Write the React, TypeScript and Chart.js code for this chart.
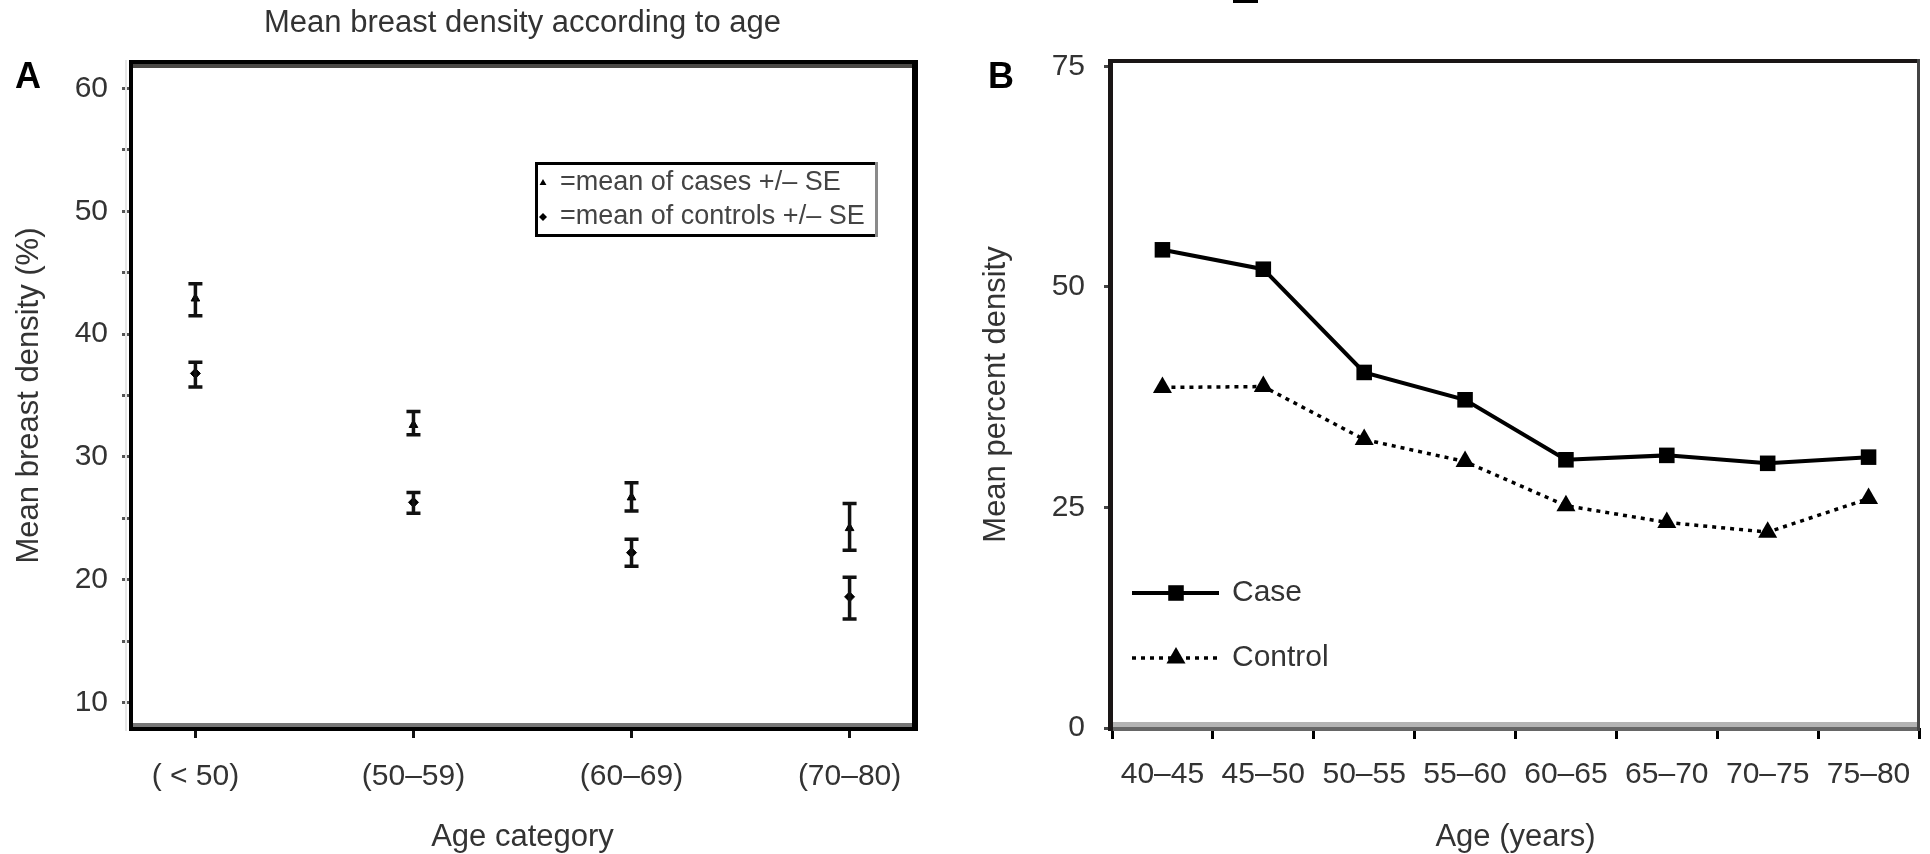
import React, { useEffect, useRef } from 'react';
import { Chart, registerables } from 'chart.js';
import { drawPoint } from 'chart.js/helpers';

Chart.register(...registerables);

const FAMILY = "'Liberation Sans', Arial, Helvetica, sans-serif";
const TEXT = '#333333';

// ---------- Panel A data ----------
const ageCategories = ['( < 50)', '(50–59)', '(60–69)', '(70–80)'];
const casesMean = [42.9, 32.6, 26.7, 24.2];
const casesLow = [41.5, 31.8, 25.6, 22.4];
const casesHigh = [44.1, 33.7, 27.9, 26.2];
const controlsMean = [36.8, 26.3, 22.2, 18.6];
const controlsLow = [35.7, 25.4, 21.1, 16.8];
const controlsHigh = [37.7, 27.1, 23.3, 20.2];
const yTicksA = [10, 15, 20, 25, 30, 35, 40, 45, 50, 55, 60];
const legendLabelsA = ['=mean of cases +/– SE', '=mean of controls +/– SE'];
const titleA = 'Mean breast density according to age';

// ---------- Panel B data ----------
const ageGroups = ['40–45', '45–50', '50–55', '55–60', '60–65', '65–70', '70–75', '75–80'];
const caseDensity = [54.2, 52.0, 40.3, 37.2, 30.4, 30.9, 30.0, 30.7];
const controlDensity = [38.6, 38.7, 32.7, 30.2, 25.2, 23.3, 22.2, 26.0];
const yTicksB = [0, 25, 50, 75];

const errorBars = {
  id: 'errorBars',
  afterDatasetsDraw(chart: any) {
    const { ctx } = chart;
    const x = chart.scales.x;
    const y = chart.scales.y;
    chart.data.datasets.forEach((ds: any) => {
      ds.data.forEach((pt: any, i: number) => {
        const px = x.getPixelForValue(pt.x);
        const pLo = y.getPixelForValue(ds.low[i]);
        const pHi = y.getPixelForValue(ds.high[i]);
        ctx.save();
        ctx.strokeStyle = '#111';
        ctx.lineWidth = 3.5;
        ctx.beginPath();
        ctx.moveTo(px, pLo);
        ctx.lineTo(px, pHi);
        ctx.moveTo(px - 7, pLo);
        ctx.lineTo(px + 7, pLo);
        ctx.moveTo(px - 7, pHi);
        ctx.lineTo(px + 7, pHi);
        ctx.stroke();
        ctx.restore();
      });
    });
  },
};

const frameA = {
  id: 'frameA',
  afterDraw(chart: any) {
    const { ctx } = chart;
    const { left, right, top, bottom } = chart.chartArea;
    ctx.save();
    ctx.fillStyle = '#e6e6e6';
    ctx.fillRect(left - 5, top - 4, 2, bottom - top + 8);
    ctx.fillStyle = '#4a4845';
    ctx.fillRect(left, top, right - left, 4);
    ctx.fillStyle = '#777777';
    ctx.fillRect(left, bottom - 4, right - left, 4);
    ctx.fillStyle = '#000';
    ctx.fillRect(left - 1, top - 4, right - left + 4, 4);
    ctx.fillRect(left - 1, bottom, right - left + 4, 4);
    ctx.fillRect(left - 1, top - 4, 4, bottom - top + 8);
    ctx.fillRect(right - 3, top - 4, 6, bottom - top + 8);

    // panel letter
    ctx.font = `bold 36px ${FAMILY}`;
    ctx.textAlign = 'center';
    ctx.textBaseline = 'middle';
    ctx.fillText('A', 28, 78);

    // legend box
    const bx = left + 405;
    const by = top + 98;
    const bw = 343;
    const bh = 75;
    ctx.fillStyle = '#fff';
    ctx.fillRect(bx, by, bw, bh);
    ctx.fillStyle = '#000';
    ctx.fillRect(bx, by, bw, 3);
    ctx.fillRect(bx, by + bh - 3, bw, 3);
    ctx.fillRect(bx, by, 3, bh);
    ctx.fillStyle = '#8a8a8a';
    ctx.fillRect(bx + bw - 3, by, 3, bh);
    const rows = [by + 21, by + 55];
    chart.data.datasets.forEach((ds: any, i: number) => {
      ctx.fillStyle = '#000';
      drawPoint(ctx, { pointStyle: ds.pointStyle, radius: 4, rotation: 0, borderWidth: 0 } as any, bx + 8, rows[i]);
      ctx.fillStyle = '#444';
      ctx.font = `27px ${FAMILY}`;
      ctx.textAlign = 'left';
      ctx.textBaseline = 'middle';
      ctx.fillText(legendLabelsA[i], bx + 25, rows[i]);
    });
    ctx.restore();
  },
};

const frameB = {
  id: 'frameB',
  afterDraw(chart: any) {
    const { ctx } = chart;
    const { left, right, top, bottom } = chart.chartArea;
    ctx.save();
    ctx.fillStyle = '#b3b3b3';
    ctx.fillRect(left, bottom - 6, right - left, 5);
    ctx.fillStyle = '#666666';
    ctx.fillRect(left, bottom - 1, right - left, 4);
    ctx.fillStyle = '#1a1616';
    ctx.fillRect(left - 4, top - 2, right - left + 4, 4);
    ctx.fillRect(left - 4, top - 2, 5, bottom - top + 5);
    ctx.fillStyle = '#444444';
    ctx.fillRect(right - 2, top - 2, 3, bottom - top + 5);

    // panel letter
    ctx.fillStyle = '#000';
    ctx.font = `bold 36px ${FAMILY}`;
    ctx.textAlign = 'center';
    ctx.textBaseline = 'middle';
    ctx.fillText('B', 41, 78);
    ctx.fillRect(273, 0, 25, 3);

    // legend
    const ys = [top + 532, top + 597];
    chart.data.datasets.forEach((ds: any, i: number) => {
      const y = ys[i];
      ctx.strokeStyle = ds.borderColor;
      ctx.lineWidth = ds.borderWidth;
      ctx.setLineDash(ds.borderDash || []);
      ctx.beginPath();
      ctx.moveTo(left + 20, y);
      ctx.lineTo(left + 107, y);
      ctx.stroke();
      ctx.setLineDash([]);
      ctx.fillStyle = '#000';
      drawPoint(ctx, { pointStyle: ds.pointStyle, radius: ds.pointRadius, rotation: 0, borderWidth: 0 } as any, left + 64, y);
      ctx.fillStyle = TEXT;
      ctx.font = `30px ${FAMILY}`;
      ctx.textAlign = 'left';
      ctx.textBaseline = 'middle';
      ctx.fillText(ds.label, left + 120, y);
    });
    ctx.restore();
  },
};

function makeConfigA(): any {
  return {
    type: 'scatter',
    data: {
      datasets: [
        {
          label: 'cases',
          data: casesMean.map((v, i) => ({ x: i, y: v })),
          low: casesLow,
          high: casesHigh,
          pointStyle: 'triangle',
          pointRadius: 5,
          backgroundColor: '#000',
          borderColor: '#000',
        },
        {
          label: 'controls',
          data: controlsMean.map((v, i) => ({ x: i, y: v })),
          low: controlsLow,
          high: controlsHigh,
          pointStyle: 'rectRot',
          pointRadius: 5,
          backgroundColor: '#000',
          borderColor: '#000',
        },
      ],
    },
    options: {
      animation: false,
      responsive: false,
      devicePixelRatio: 1,
      layout: { padding: { left: 0, right: 45, top: 0, bottom: 0 } },
      plugins: {
        legend: { display: false },
        tooltip: { enabled: false },
        title: {
          display: true,
          text: titleA,
          fullSize: false,
          color: TEXT,
          font: { family: FAMILY, size: 31, weight: 'normal', lineHeight: 1.2 },
          padding: { top: 5, bottom: 21.8 },
        },
      },
      scales: {
        x: {
          type: 'linear',
          min: -0.3,
          max: 3.3,
          afterBuildTicks: (s: any) => {
            s.ticks = ageCategories.map((_, i) => ({ value: i }));
          },
          afterFit: (s: any) => {
            s.height = 127;
          },
          ticks: {
            callback: (v: any) => ageCategories[v] ?? '',
            font: { family: FAMILY, size: 30 },
            color: TEXT,
            padding: 21,
            maxRotation: 0,
            autoSkip: false,
          },
          grid: { drawOnChartArea: false, drawTicks: true, tickLength: 11, tickColor: '#111', tickWidth: 3 },
          border: { display: false },
          title: {
            display: true,
            text: 'Age category',
            color: TEXT,
            font: { family: FAMILY, size: 31, lineHeight: 1 },
            padding: { top: 0, bottom: 1 },
          },
        },
        y: {
          min: 8,
          max: 62,
          afterBuildTicks: (s: any) => {
            s.ticks = yTicksA.map((v) => ({ value: v }));
          },
          afterFit: (s: any) => {
            s.width = 130;
          },
          ticks: {
            callback: (v: any) => (v % 10 === 0 ? String(v) : ''),
            font: { family: FAMILY, size: 30 },
            color: TEXT,
            padding: 14,
          },
          grid: { drawOnChartArea: false, drawTicks: true, tickLength: 8, tickColor: '#555', tickWidth: 3 },
          border: { display: false },
          title: {
            display: true,
            text: 'Mean breast density (%)',
            color: TEXT,
            font: { family: FAMILY, size: 31, lineHeight: 1 },
            padding: { top: 14, bottom: 0 },
          },
        },
      },
    },
    plugins: [errorBars, frameA],
  };
}

function makeConfigB(): any {
  return {
    type: 'line',
    data: {
      labels: ageGroups,
      datasets: [
        {
          label: 'Case',
          data: caseDensity,
          borderColor: '#000',
          backgroundColor: '#000',
          borderWidth: 4,
          pointStyle: 'rect',
          pointRadius: 11,
          pointBorderWidth: 0,
          pointBackgroundColor: '#000',
          tension: 0,
        },
        {
          label: 'Control',
          data: controlDensity,
          borderColor: '#000',
          backgroundColor: '#000',
          borderWidth: 3.5,
          borderDash: [4, 5],
          pointStyle: 'triangle',
          pointRadius: 11,
          pointBorderWidth: 0,
          pointBackgroundColor: '#000',
          tension: 0,
        },
      ],
    },
    options: {
      animation: false,
      responsive: false,
      devicePixelRatio: 1,
      layout: { padding: { left: 0, right: 11, top: 61, bottom: 0 } },
      plugins: {
        legend: { display: false },
        tooltip: { enabled: false },
      },
      scales: {
        x: {
          type: 'category',
          offset: true,
          afterFit: (s: any) => {
            s.height = 126;
          },
          ticks: {
            font: { family: FAMILY, size: 30 },
            color: TEXT,
            padding: 18,
            maxRotation: 0,
            autoSkip: false,
          },
          grid: { offset: true, drawOnChartArea: false, drawTicks: true, tickLength: 11, tickColor: '#000', tickWidth: 3 },
          border: { display: false },
          title: {
            display: true,
            text: 'Age (years)',
            color: TEXT,
            font: { family: FAMILY, size: 31, lineHeight: 1 },
            padding: { top: 0, bottom: 1 },
          },
        },
        y: {
          min: 0,
          max: 75.6,
          afterBuildTicks: (s: any) => {
            s.ticks = yTicksB.map((v) => ({ value: v }));
          },
          afterFit: (s: any) => {
            s.width = 152;
          },
          ticks: {
            font: { family: FAMILY, size: 30 },
            color: TEXT,
            padding: 19,
          },
          grid: { drawOnChartArea: false, drawTicks: true, tickLength: 8, tickColor: '#444', tickWidth: 3 },
          border: { display: false },
          title: {
            display: true,
            text: 'Mean percent density',
            color: TEXT,
            font: { family: FAMILY, size: 31, lineHeight: 1 },
            padding: { top: 21, bottom: 0 },
          },
        },
      },
    },
    plugins: [frameB],
  };
}

export default function App() {
  const refA = useRef<HTMLCanvasElement>(null);
  const refB = useRef<HTMLCanvasElement>(null);

  useEffect(() => {
    const a = new Chart(refA.current as HTMLCanvasElement, makeConfigA());
    const b = new Chart(refB.current as HTMLCanvasElement, makeConfigB());
    return () => {
      a.destroy();
      b.destroy();
    };
  }, []);

  return (
    <div style={{ position: 'absolute', left: 0, top: 0, width: 1930, height: 854, background: '#fff', overflow: 'hidden' }}>
      <canvas
        ref={refA}
        width={960}
        height={854}
        style={{ position: 'absolute', left: 0, top: 0, width: 960, height: 854 }}
      />
      <canvas
        ref={refB}
        width={970}
        height={854}
        style={{ position: 'absolute', left: 960, top: 0, width: 970, height: 854 }}
      />
    </div>
  );
}
